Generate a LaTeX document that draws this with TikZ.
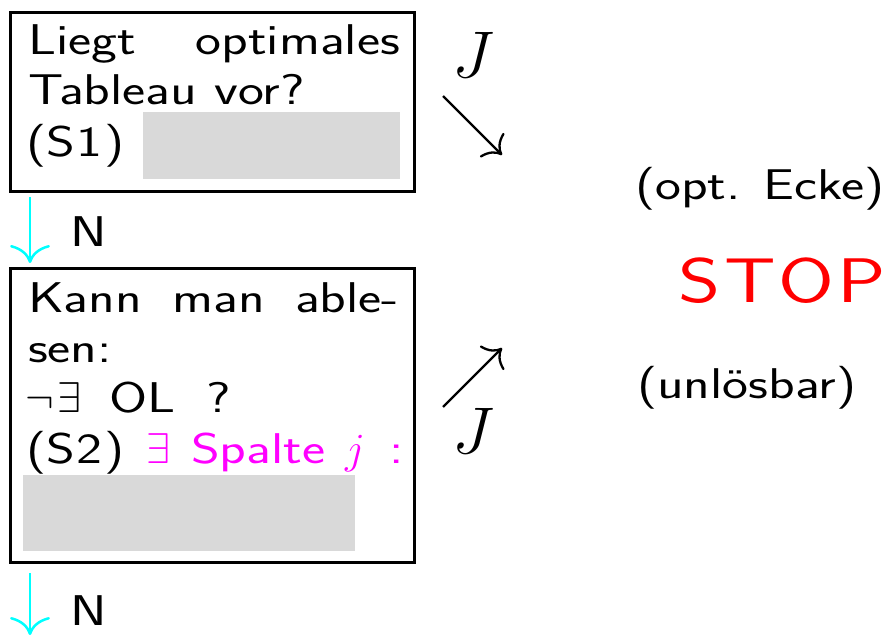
\RequirePackage{fix-cm}
\documentclass[tikz,border=0pt]{standalone}
\usepackage{fontspec}
\setsansfont[FakeStretch=1.28]{Latin Modern Sans}
\usetikzlibrary{arrows.meta}
\definecolor{boxgray}{HTML}{D9D9D9}
\definecolor{mycyan}{HTML}{00FFFF}
\definecolor{mymagenta}{HTML}{FF00FF}
\definecolor{myred}{HTML}{FF0000}
\begin{document}
\begin{tikzpicture}[x=1pt,y=-1pt,
  txt/.style={anchor=base west, inner sep=0pt, outer sep=0pt, font=\sffamily\fontsize{43}{50}\selectfont},
  bigj/.style={anchor=base west, inner sep=0pt, outer sep=0pt, font=\fontsize{66}{70}\selectfont},
  stoptxt/.style={anchor=base east, inner sep=0pt, outer sep=0pt, text=myred, font=\sffamily\fontsize{63}{70}\selectfont},
  frame/.style={draw=black, line width=3pt, anchor=north west, inner sep=0pt, outer sep=0pt},
  blank/.style={fill=boxgray, anchor=north west, inner sep=0pt, outer sep=0pt},
  flow/.style={draw=mycyan, line width=2.5pt, -{To[length=18pt,width=40pt]}},
  diag/.style={draw=black, line width=2.3pt, -{To[length=15pt,width=34pt]}},
]
\useasboundingbox (0,0) rectangle (891,636);
% box 1
\node[frame, minimum width=404pt, minimum height=179pt] (b1) at (10.5,12.5) {};
\node[txt] (t1a) at (28,55) {\hbox to 372pt{Liegt\hfill optimales}};
\node[txt] (t1b) at (28,105) {Tableau vor?};
\node[txt] (t1c) at (26,157) {(S\kern2pt 1\kern2pt)};
\node[blank, minimum width=257pt, minimum height=67pt] (g1) at (143,112) {};
% box 2
\node[frame, minimum width=404pt, minimum height=294pt] (b2) at (10.5,268.5) {};
\node[txt] (t2a) at (28,312) {\hbox to 371pt{Kann\hfill man\hfill able-}};
\node[txt] (t2b) at (28,362) {sen:};
\node[txt] (t2c) at (25,412) {\makebox[84pt][l]{$\neg\kern4pt\exists$}\makebox[98pt][l]{OL}?};
\node[txt] (t2d) at (26,463) {\makebox[120pt][l]{(S\kern2pt 2\kern2pt)}\color{mymagenta}\makebox[45pt][l]{$\exists$}\makebox[154pt][l]{Spalte}\makebox[44pt][l]{$j$}:};
\node[blank, minimum width=332pt, minimum height=76pt] (g2) at (23,475) {};
% N arrows
\draw[flow] ([xshift=19.5pt,yshift=-5.5pt]b1.south west) -- ([xshift=19.5pt,yshift=5.5pt]b2.north west);
\node[txt] (n1) at (70,247) {N};
\coordinate (e2) at (30,635);
\draw[flow] ([xshift=19.5pt,yshift=-10.5pt]b2.south west) -- (e2);
\node[txt] (n2) at (70,625) {N};
% J arrows
\node[bigj] (J1) at (452,78) {$J$};
\coordinate (d1s) at (443,96);
\coordinate (d1e) at (502,155);
\draw[diag] (d1s) -- (d1e);
\node[bigj] (J2) at (452,453) {$J$};
\coordinate (d2s) at (443,407);
\coordinate (d2e) at (502,348);
\draw[diag] (d2s) -- (d2e);
% right side
\node[txt] (opt) at (635,200) {(opt. Ecke)};
\node[stoptxt] (stop) at (886,302) {S\kern3pt T\kern3pt O\kern3pt P};
\node[txt] (unl) at (637,398) {(unlösbar)};
\end{tikzpicture}
\end{document}
